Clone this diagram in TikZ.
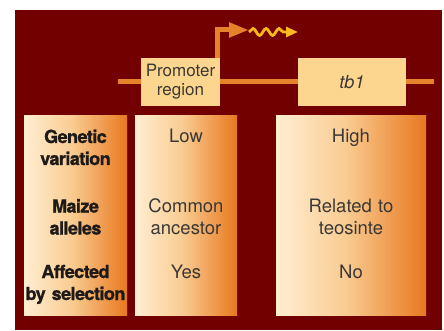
\documentclass[tikz,border=0pt]{standalone}
\usepackage{fontspec}
\setmainfont{TeX Gyre Heros}
\usetikzlibrary{arrows.meta,decorations.pathmorphing}

\definecolor{mzPanel}{HTML}{730000}
\definecolor{mzOrange}{HTML}{E8822A}
\definecolor{mzYellow}{HTML}{F8B820}
\definecolor{mzBox}{HTML}{FCD68E}
\definecolor{mzText}{HTML}{3B3835}
\definecolor{mzInk}{HTML}{1E1A18}
\definecolor{mzCream}{HTML}{FFEED2}
\definecolor{mzPeach}{HTML}{F9CC92}
\definecolor{mzDeep}{HTML}{E8781F}

% cream to orange, left to right
\pgfdeclarehorizontalshading{mzfade}{100bp}{color(0bp)=(mzCream); color(25bp)=(mzCream); color(48bp)=(mzPeach); color(75bp)=(mzDeep); color(100bp)=(mzDeep)}

\tikzset{
  geneline/.style={mzOrange, line width=5pt},
  genebox/.style={fill=mzBox, inner sep=0pt, align=center, text=mzText,
    font=\fontsize{17}{19}\selectfont},
  colbox/.style={shade, shading=mzfade, inner sep=0pt, minimum height=199pt},
  rowhead/.style={anchor=base, text width=100pt, align=center, inner sep=0pt, text=mzInk,
    font=\fontsize{18}{22}\selectfont\bfseries\addfontfeatures{LetterSpace=-3,FakeBold=1.2}},
  rowcell/.style={anchor=base, text width=140pt, align=center, inner sep=0pt, text=mzText,
    font=\fontsize{18.5}{22}\selectfont},
}

\begin{document}
\begin{tikzpicture}[x=1pt,y=-1pt]
  \useasboundingbox (0,0) rectangle (444,331);
  % dark panel
  \fill[mzPanel] (15,10) rectangle (442,330);

  % -- gene: promoter and tb1 --
  \node[genebox, minimum width=79pt, minimum height=48pt] (prom) at (180.5,82) {Promoter\\region};
  \node[genebox, minimum width=108pt, minimum height=48pt,
    font=\fontsize{18}{20}\selectfont\itshape] (tb1) at (352,82) {tb1};
  \coordinate (geneL) at (118,82);
  \coordinate (geneR) at (434,82);
  \draw[geneline] (geneL) -- (prom.west);
  \draw[geneline] (prom.east) -- (tb1.west);
  \draw[geneline] (tb1.east) -- (geneR);

  % start of transcription, then the transcript
  \coordinate (tss) at ([xshift=-3pt]prom.north east);
  \coordinate (tssTip) at (249,30);
  \coordinate (rnaStart) at (249,32);
  \coordinate (rnaEnd) at (298,32);
  \draw[geneline, -{Triangle[length=20pt,width=14pt]}] (tss) |- (tssTip);
  \draw[mzYellow, line width=2.8pt, -{Triangle[length=12pt,width=10pt]},
    decorate, decoration={snake, amplitude=3.5pt, segment length=13pt, post length=11pt}]
    (rnaStart) -- (rnaEnd);

  % -- table columns --
  \node[colbox, minimum width=103pt] (heads) at (75.5,215.5) {};
  \node[colbox, minimum width=102pt] (promcol) at (186,215.5) {};
  \node[colbox, minimum width=150pt] (tbcol) at (351,215.5) {};

  \node[rowhead] (hGen) at (75.5,143) {Genetic\\variation};
  \node[rowhead] (hAll) at (75.5,212.5) {Maize\\alleles};
  \node[rowhead] (hSel) at (75.5,278) {Affected\\by selection};

  \node[rowcell] (pGen) at (186,143) {Low};
  \node[rowcell] (pAll) at (186,212.5) {Common\\ancestor};
  \node[rowcell] (pSel) at (186,278) {Yes};

  \node[rowcell] (tGen) at (351,143) {High};
  \node[rowcell] (tAll) at (351,212.5) {Related to\\teosinte};
  \node[rowcell] (tSel) at (351,278) {No};
\end{tikzpicture}
\end{document}
